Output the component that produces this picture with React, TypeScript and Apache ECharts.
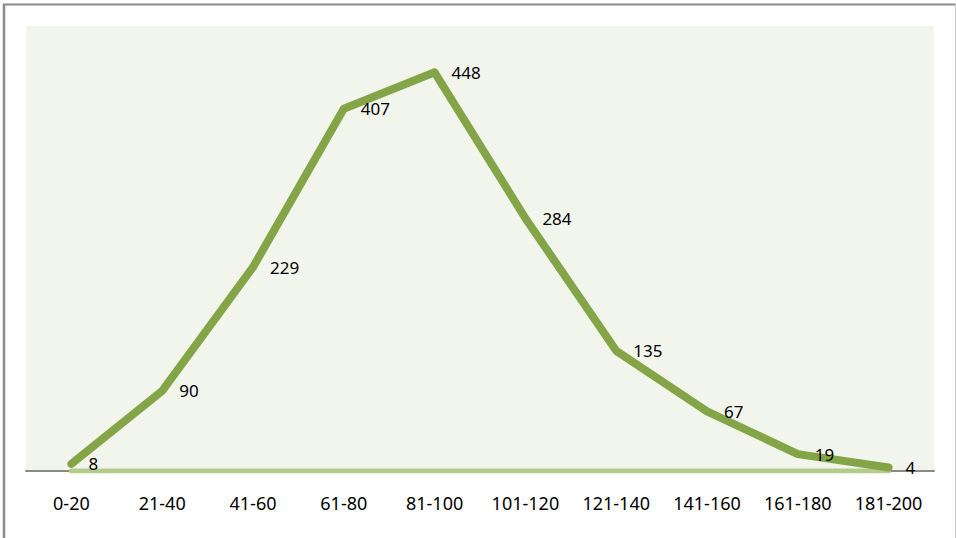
import React, { useEffect, useRef } from "react";
import * as echarts from "echarts";

const categories = ["0-20", "21-40", "41-60", "61-80", "81-100", "101-120", "121-140", "141-160", "161-180", "181-200"];
const counts = [8, 90, 229, 407, 448, 284, 135, 67, 19, 4];
const baseline = [0, 0, 0, 0, 0, 0, 0, 0, 0, 0];

export default function App() {
  const ref = useRef<HTMLDivElement>(null);
  useEffect(() => {
    if (!ref.current) return;
    const chart = echarts.init(ref.current, null, { renderer: "svg" });
    chart.setOption({
      animation: false,
      backgroundColor: "#ffffff",
      textStyle: { fontFamily: "Noto Sans" },
      grid: {
        left: 26,
        right: 22,
        top: 26,
        bottom: 67,
        show: true,
        backgroundColor: "#F2F5EC",
        borderWidth: 0,
      },
      xAxis: {
        type: "category",
        data: categories,
        boundaryGap: true,
        offset: 3,
        axisLine: { show: true, lineStyle: { color: "#8a8a8a", width: 2 } },
        axisTick: { show: false },
        axisLabel: { color: "#000", fontSize: 18, margin: 20, fontFamily: "Noto Sans", interval: 0 },
      },
      yAxis: {
        type: "value",
        min: 0,
        max: 500,
        show: false,
        splitLine: { show: false },
      },
      graphic: [
        { type: "line", shape: { x1: 4, y1: 4, x2: 4, y2: 538 }, style: { stroke: "#8a8a8a", lineWidth: 2.5 } },
        { type: "line", shape: { x1: 3, y1: 4.5, x2: 956, y2: 4.5 }, style: { stroke: "#8a8a8a", lineWidth: 2 } },
        { type: "line", shape: { x1: 955.5, y1: 4, x2: 955.5, y2: 538 }, style: { stroke: "#c8c8c8", lineWidth: 1 } },
      ],
      series: [
        {
          type: "line",
          data: baseline,
          symbol: "none",
          silent: true,
          lineStyle: { color: "#B4CB8E", width: 5, cap: "round" },
          z: 1,
        },
        {
          type: "line",
          data: counts,
          symbol: "circle",
          symbolSize: 2,
          showSymbol: true,
          itemStyle: { color: "#84A547" },
          lineStyle: { color: "#84A547", width: 8, cap: "round", join: "round" },
          z: 2,
          labelLayout: { hideOverlap: false },
          label: {
            show: true,
            position: "right",
            distance: 16,
            offset: [0, 4],
            color: "#000",
            fontSize: 17,
            fontFamily: "Noto Sans",
          },
        },
      ],
    });
    return () => chart.dispose();
  }, []);
  return (
    <div
      ref={ref}
      style={{ position: "fixed", left: 0, top: 0, width: 956, height: 538 }}
    />
  );
}
